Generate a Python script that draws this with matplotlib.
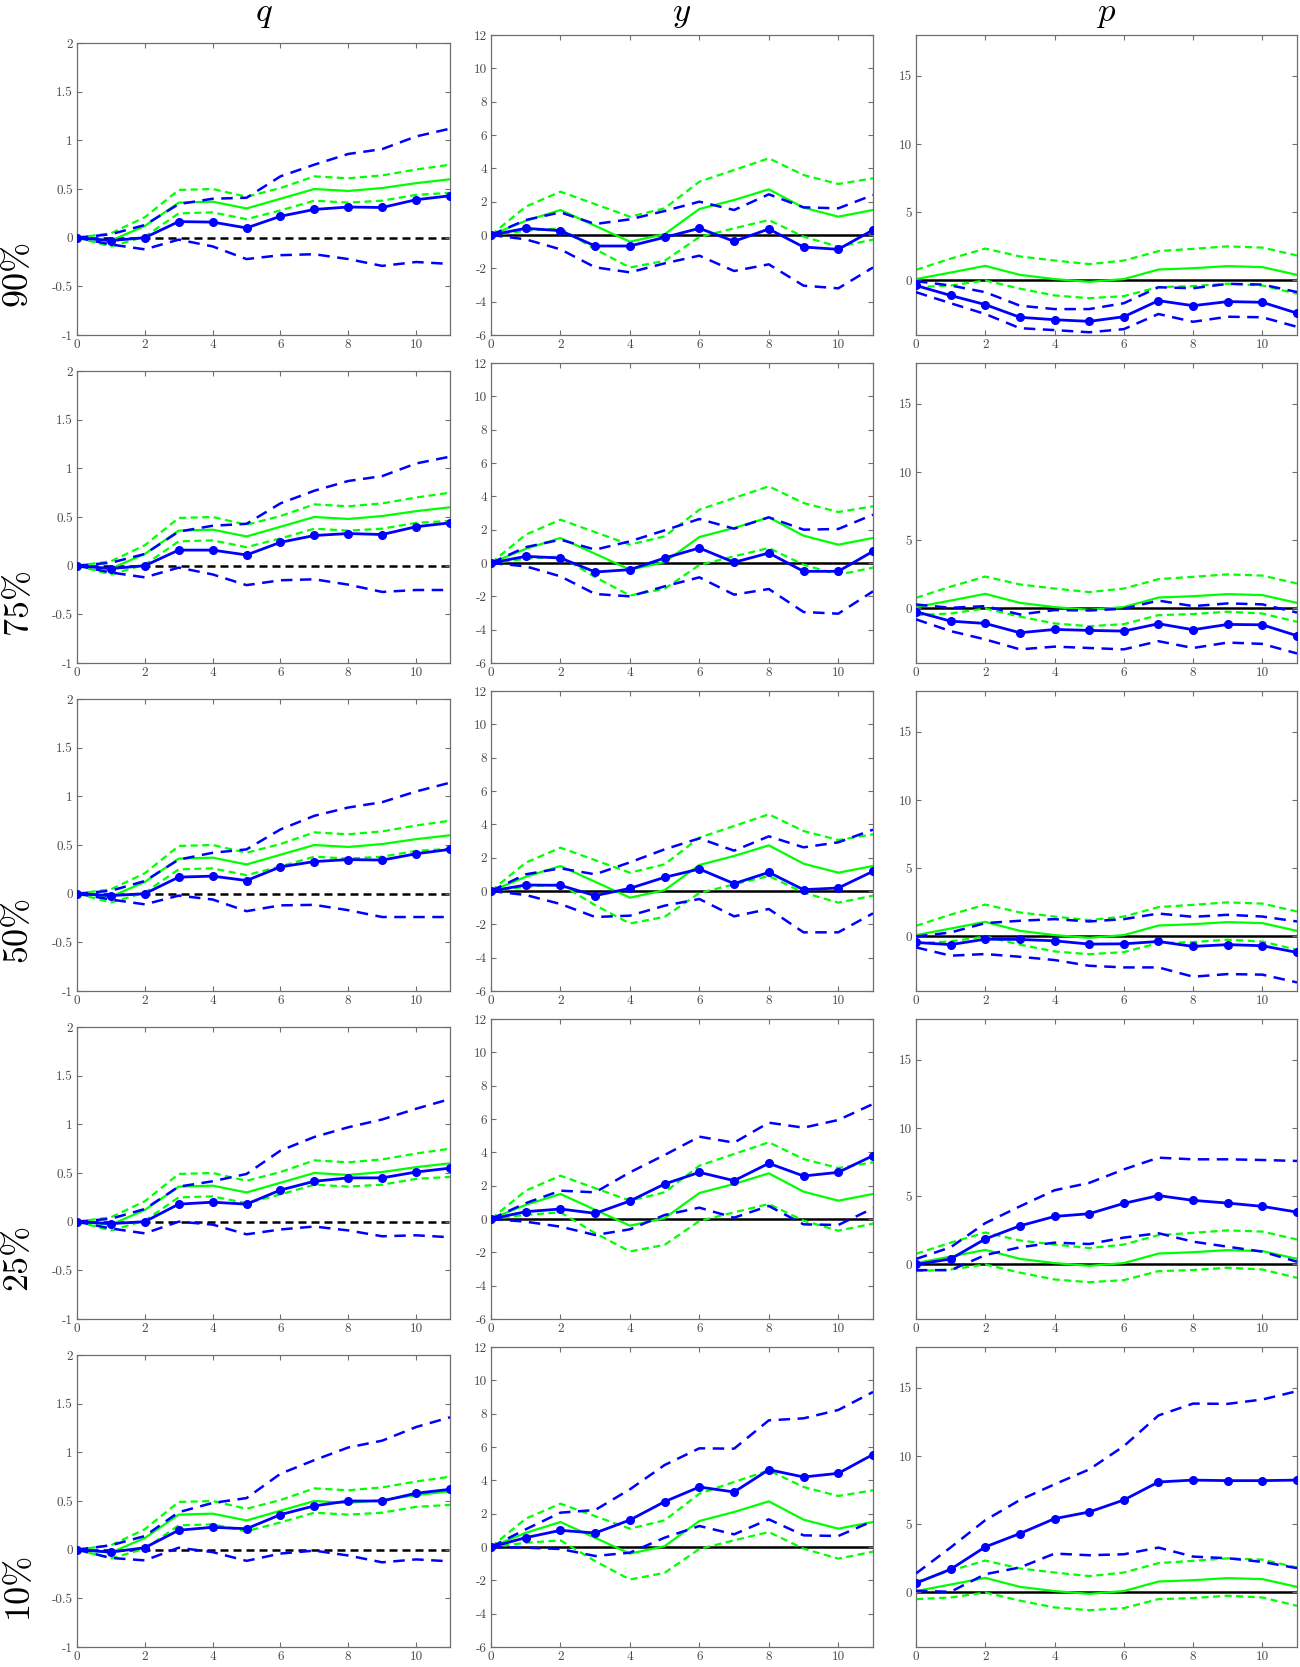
import numpy as np
import matplotlib
matplotlib.use("Agg")
import matplotlib.pyplot as plt
from matplotlib.ticker import FuncFormatter

plt.rcParams["font.family"] = ["cmr10", "DejaVu Serif"]
plt.rcParams["mathtext.fontset"] = "cm"
plt.rcParams["axes.unicode_minus"] = False

horizon = np.arange(12)
row_labels = ["90%", "75%", "50%", "25%", "10%"]
col_titles = ["$q$", "$y$", "$p$"]

# baseline (green) responses, same in every row
q_green_mid = [0, -0.03, 0.12, 0.36, 0.37, 0.30, 0.40, 0.50, 0.48, 0.51, 0.56, 0.60]
q_green_hi = [0, 0.045, 0.21, 0.49, 0.50, 0.42, 0.51, 0.63, 0.61, 0.64, 0.70, 0.75]
q_green_lo = [0, -0.09, 0.01, 0.25, 0.26, 0.19, 0.28, 0.38, 0.36, 0.38, 0.44, 0.46]

y_green_mid = [0, 0.85, 1.5, 0.55, -0.4, 0.05, 1.56, 2.1, 2.74, 1.64, 1.1, 1.5]
y_green_hi = [0, 1.7, 2.6, 1.85, 1.1, 1.6, 3.2, 3.9, 4.6, 3.6, 3.06, 3.4]
y_green_lo = [0, 0.25, 0.4, -0.85, -1.95, -1.55, -0.12, 0.4, 0.9, -0.1, -0.7, -0.28]

p_green_mid = [0.1, 0.58, 1.07, 0.41, 0.1, -0.1, 0.1, 0.8, 0.9, 1.05, 0.98, 0.41]
p_green_hi = [0.78, 1.6, 2.34, 1.76, 1.46, 1.2, 1.46, 2.15, 2.32, 2.5, 2.41, 1.83]
p_green_lo = [-0.49, -0.37, 0.0, -0.6, -1.1, -1.3, -1.15, -0.49, -0.41, -0.24, -0.37, -0.98]

# quantile (blue) responses, one list per row: 90%, 75%, 50%, 25%, 10%
q_blue_mid = [
    [0, -0.03, 0.0, 0.165, 0.16, 0.10, 0.22, 0.29, 0.315, 0.31, 0.39, 0.43],
    [0, -0.03, 0.0, 0.16, 0.16, 0.11, 0.24, 0.31, 0.33, 0.32, 0.40, 0.44],
    [0, -0.02, 0.0, 0.17, 0.18, 0.135, 0.275, 0.33, 0.35, 0.345, 0.41, 0.455],
    [0, -0.02, 0.0, 0.18, 0.20, 0.18, 0.325, 0.415, 0.45, 0.45, 0.51, 0.55],
    [0, -0.025, 0.02, 0.20, 0.23, 0.215, 0.36, 0.45, 0.50, 0.50, 0.58, 0.62],
]
q_blue_hi = [
    [0, 0.035, 0.13, 0.345, 0.40, 0.41, 0.63, 0.75, 0.86, 0.91, 1.04, 1.12],
    [0, 0.03, 0.12, 0.35, 0.41, 0.43, 0.64, 0.77, 0.87, 0.92, 1.05, 1.12],
    [0, 0.03, 0.13, 0.35, 0.42, 0.455, 0.66, 0.80, 0.885, 0.94, 1.05, 1.14],
    [0, 0.03, 0.13, 0.36, 0.415, 0.49, 0.73, 0.87, 0.97, 1.05, 1.16, 1.26],
    [0, 0.045, 0.14, 0.385, 0.48, 0.53, 0.78, 0.92, 1.05, 1.12, 1.26, 1.36],
]
q_blue_lo = [
    [0, -0.07, -0.12, -0.02, -0.09, -0.22, -0.18, -0.17, -0.22, -0.29, -0.25, -0.27],
    [0, -0.07, -0.12, -0.02, -0.09, -0.20, -0.15, -0.14, -0.195, -0.27, -0.25, -0.25],
    [0, -0.06, -0.11, -0.02, -0.06, -0.18, -0.12, -0.115, -0.17, -0.24, -0.24, -0.24],
    [0, -0.07, -0.12, 0.0, -0.03, -0.13, -0.08, -0.05, -0.09, -0.15, -0.14, -0.16],
    [0, -0.085, -0.11, 0.02, -0.025, -0.115, -0.04, -0.01, -0.06, -0.13, -0.10, -0.12],
]

y_blue_mid = [
    [0, 0.4, 0.26, -0.66, -0.66, -0.14, 0.4, -0.38, 0.36, -0.72, -0.86, 0.3],
    [0, 0.4, 0.3, -0.54, -0.4, 0.3, 0.9, 0.04, 0.6, -0.5, -0.5, 0.7],
    [0, 0.36, 0.34, -0.28, 0.16, 0.82, 1.32, 0.44, 1.12, 0.08, 0.18, 1.18],
    [0, 0.44, 0.6, 0.34, 1.08, 2.1, 2.8, 2.3, 3.34, 2.58, 2.8, 3.8],
    [0, 0.56, 1.0, 0.84, 1.62, 2.72, 3.6, 3.3, 4.64, 4.2, 4.42, 5.55],
]
y_blue_hi = [
    [0, 0.9, 1.36, 0.66, 0.94, 1.44, 2.0, 1.5, 2.44, 1.66, 1.6, 2.4],
    [0, 0.95, 1.4, 0.8, 1.3, 1.96, 2.64, 2.06, 2.74, 2.0, 2.04, 2.9],
    [0, 1.0, 1.36, 1.0, 1.72, 2.5, 3.16, 2.42, 3.28, 2.62, 2.92, 3.68],
    [0, 0.95, 1.7, 1.6, 2.8, 3.84, 4.94, 4.58, 5.78, 5.48, 5.94, 6.9],
    [0, 1.06, 2.06, 2.22, 3.46, 4.92, 5.92, 5.9, 7.6, 7.72, 8.22, 9.3],
]
y_blue_lo = [
    [0, -0.26, -0.86, -1.94, -2.24, -1.7, -1.24, -2.16, -1.76, -3.04, -3.2, -1.95],
    [0, -0.2, -0.8, -1.86, -2.0, -1.4, -0.86, -1.9, -1.56, -2.94, -3.04, -1.7],
    [0, -0.24, -0.78, -1.56, -1.48, -0.88, -0.48, -1.52, -1.08, -2.48, -2.48, -1.34],
    [0, -0.16, -0.46, -0.96, -0.62, 0.24, 0.68, 0.08, 0.78, -0.32, -0.36, 0.64],
    [0, -0.04, -0.12, -0.54, -0.34, 0.56, 1.26, 0.76, 1.66, 0.7, 0.66, 1.56],
]

p_blue_mid = [
    [-0.37, -1.1, -1.77, -2.7, -2.88, -3.0, -2.66, -1.48, -1.85, -1.55, -1.6, -2.4],
    [-0.24, -0.93, -1.1, -1.78, -1.54, -1.61, -1.66, -1.12, -1.56, -1.17, -1.2, -2.0],
    [-0.44, -0.6, -0.2, -0.22, -0.32, -0.56, -0.54, -0.37, -0.73, -0.6, -0.68, -1.17],
    [0.0, 0.4, 1.87, 2.83, 3.52, 3.72, 4.48, 5.05, 4.7, 4.5, 4.26, 3.84],
    [0.68, 1.7, 3.34, 4.32, 5.41, 5.9, 6.78, 8.1, 8.24, 8.2, 8.2, 8.24],
]
p_blue_hi = [
    [-0.05, -0.37, -0.86, -1.85, -2.1, -2.1, -1.67, -0.5, -0.57, -0.25, -0.3, -0.85],
    [0.29, 0.05, 0.17, -0.44, -0.12, -0.15, -0.02, 0.58, 0.17, 0.37, 0.3, -0.3],
    [0.0, 0.29, 0.98, 1.15, 1.27, 1.1, 1.27, 1.68, 1.44, 1.59, 1.46, 1.1],
    [0.4, 1.26, 3.03, 4.26, 5.44, 5.98, 6.97, 7.83, 7.71, 7.71, 7.66, 7.59],
    [1.39, 3.3, 5.3, 6.78, 7.93, 9.02, 10.73, 12.98, 13.85, 13.83, 14.15, 14.76],
]
p_blue_lo = [
    [-0.86, -1.67, -2.46, -3.5, -3.64, -3.8, -3.57, -2.46, -3.03, -2.66, -2.7, -3.4],
    [-0.8, -1.66, -2.27, -3.0, -2.8, -2.9, -3.0, -2.4, -2.9, -2.5, -2.6, -3.3],
    [-0.8, -1.41, -1.29, -1.49, -1.73, -2.15, -2.27, -2.27, -2.95, -2.76, -2.8, -3.37],
    [-0.42, -0.42, 0.69, 1.26, 1.6, 1.5, 1.97, 2.29, 1.67, 1.3, 0.94, 0.2],
    [0.12, 0.05, 1.34, 1.83, 2.85, 2.73, 2.8, 3.29, 2.63, 2.51, 2.24, 1.78],
]

columns = [
    (q_green_mid, q_green_lo, q_green_hi, q_blue_mid, q_blue_lo, q_blue_hi),
    (y_green_mid, y_green_lo, y_green_hi, y_blue_mid, y_blue_lo, y_blue_hi),
    (p_green_mid, p_green_lo, p_green_hi, p_blue_mid, p_blue_lo, p_blue_hi),
]
ylims = [(-1, 2), (-6, 12), (-4, 18)]
yticks = [np.arange(-1, 2.01, 0.5), np.arange(-6, 12.1, 2), [0, 5, 10, 15]]

W, H = 1300, 1667
fig = plt.figure(figsize=(W / 100, H / 100), dpi=100)

# pixel extents of each column (left, right) and of the rows
col_x = [(77, 450), (491, 873), (916, 1297)]
top_off = [43, 35, 35]
row_bottom = [335 + 328 * i for i in range(5)]

blue = "#0000ff"
green = "#00ff00"
gray = "#6e6e6e"
fmt = FuncFormatter(lambda v, pos: "{:g}".format(v))

for r in range(5):
    for c in range(3):
        gmid, glo, ghi, bmid, blo, bhi = columns[c]
        x0, x1 = col_x[c]
        top = row_bottom[r] - 300 + (top_off[c] - 35)
        bot = row_bottom[r]
        ax = fig.add_axes([x0 / W, 1 - bot / H, (x1 - x0) / W, (bot - top) / H])

        if c == 0:
            ax.axhline(0, color="k", lw=1.8, dashes=(3.2, 2.0), zorder=1)
        else:
            ax.axhline(0, color="k", lw=1.8, zorder=1)

        ax.plot(horizon, gmid, color=green, lw=1.6, zorder=2)
        ax.plot(horizon, ghi, color=green, lw=1.6, dashes=(3.2, 2.0), zorder=2)
        ax.plot(horizon, glo, color=green, lw=1.6, dashes=(3.2, 2.0), zorder=2)
        ax.plot(horizon, bhi[r], color=blue, lw=1.8, dashes=(4.6, 3.0), zorder=3)
        ax.plot(horizon, blo[r], color=blue, lw=1.8, dashes=(4.6, 3.0), zorder=3)
        ax.plot(horizon, bmid[r], color=blue, lw=2.0, marker="o", ms=5.5, zorder=4)

        ax.set_xlim(0, 11)
        ax.set_ylim(*ylims[c])
        ax.set_xticks([0, 2, 4, 6, 8, 10])
        ax.set_yticks(yticks[c])
        ax.yaxis.set_major_formatter(fmt)
        ax.tick_params(direction="in", top=True, right=True, length=3.5, width=0.8,
                       color=gray, labelcolor="#4a4a4a", labelsize=9.5, pad=3)
        for s in ax.spines.values():
            s.set_color(gray)
            s.set_linewidth(0.9)

        if r == 0:
            fig.text((x0 + x1) / 2 / W, 1 - 14 / H, col_titles[c], fontsize=25,
                     ha="center", va="center")
    fig.text(2 / W, 1 - (row_bottom[r] - 62) / H, row_labels[r], fontsize=26,
             rotation=90, ha="left", va="center")

fig.savefig("out.png", dpi=100)
